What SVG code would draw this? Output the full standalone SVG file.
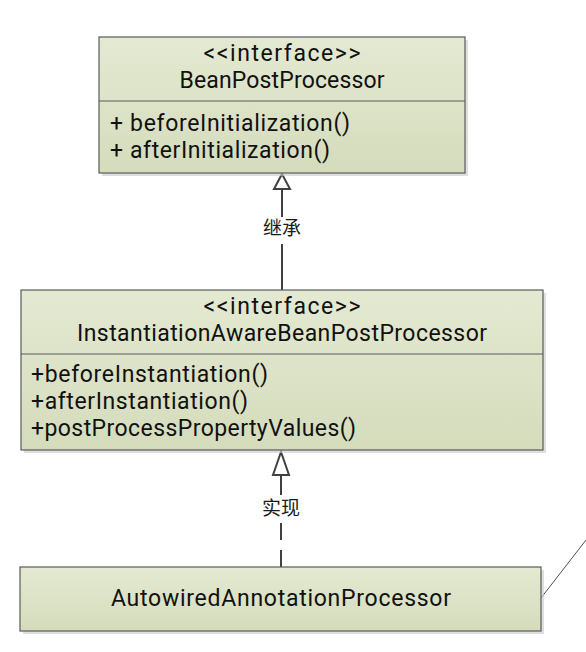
<svg xmlns="http://www.w3.org/2000/svg" width="586" height="652" viewBox="0 0 586 652">
<defs>
<linearGradient id="fillg" x1="0" y1="0" x2="0" y2="1">
<stop offset="0" stop-color="#e4e9d2"/>
<stop offset="1" stop-color="#d5dcbc"/>
</linearGradient>
<style>
.box{fill:url(#fillg);stroke:#5a5a5a;stroke-width:1.2}
.shadow{fill:#c8c8c8;opacity:0.6}
.div{stroke:#5a5a5a;stroke-width:1.2}
.t{font-family:Roboto,"Open Sans","Liberation Sans",sans-serif;font-size:23px;fill:#111111}
.c{text-anchor:middle}
.lbl{font-family:"Noto Sans CJK SC","Noto Sans",sans-serif;font-size:19px;fill:#1a1a1a;text-anchor:middle}
.edge{stroke:#404040;stroke-width:2;fill:none}
.head{fill:#ffffff;stroke:#404040;stroke-width:2}
</style>
</defs>
<rect width="586" height="652" fill="#ffffff"/>
<g id="connectors">
<line class="edge" x1="282" y1="189" x2="282" y2="217"/>
<line class="edge" x1="282" y1="244" x2="282" y2="290"/>
<polygon class="head" points="282,174 274,189 290,189"/>
<text class="lbl" x="282" y="235">继承</text>
<line class="edge" x1="281" y1="475" x2="281" y2="495"/>
<line class="edge" x1="281" y1="523" x2="281" y2="567" stroke-dasharray="17,10"/>
<polygon class="head" points="281,452 273,475 289,475"/>
<text class="lbl" x="281" y="515">实现</text>
<line x1="541" y1="598" x2="586" y2="540" stroke="#505050" stroke-width="1"/>
</g>
<g id="BeanPostProcessor">
<rect class="shadow" x="102" y="40" width="366" height="136"/>
<rect class="box" x="99" y="37" width="366" height="136"/>
<line class="div" x1="99" y1="101" x2="465" y2="101"/>
<text class="t c" x="282" y="61" textLength="157" lengthAdjust="spacing">&lt;&lt;interface&gt;&gt;</text>
<text class="t c" x="282" y="88" textLength="205" lengthAdjust="spacing">BeanPostProcessor</text>
<text class="t" x="110" y="131" textLength="240" lengthAdjust="spacing">+ beforeInitialization()</text>
<text class="t" x="110" y="158" textLength="220" lengthAdjust="spacing">+ afterInitialization()</text>
</g>
<g id="InstantiationAwareBeanPostProcessor">
<rect class="shadow" x="24" y="293" width="522" height="160"/>
<rect class="box" x="21" y="290" width="522" height="160"/>
<line class="div" x1="21" y1="354" x2="543" y2="354"/>
<text class="t c" x="282" y="314" textLength="157" lengthAdjust="spacing">&lt;&lt;interface&gt;&gt;</text>
<text class="t c" x="282" y="341" textLength="410" lengthAdjust="spacing">InstantiationAwareBeanPostProcessor</text>
<text class="t" x="31" y="382" textLength="237" lengthAdjust="spacing">+beforeInstantiation()</text>
<text class="t" x="31" y="409" textLength="217" lengthAdjust="spacing">+afterInstantiation()</text>
<text class="t" x="31" y="436" textLength="325" lengthAdjust="spacing">+postProcessPropertyValues()</text>
</g>
<g id="AutowiredAnnotationProcessor">
<rect class="shadow" x="23" y="570" width="521" height="64"/>
<rect class="box" x="20" y="567" width="521" height="64"/>
<text class="t c" x="281" y="606" textLength="340" lengthAdjust="spacing">AutowiredAnnotationProcessor</text>
</g>
</svg>
